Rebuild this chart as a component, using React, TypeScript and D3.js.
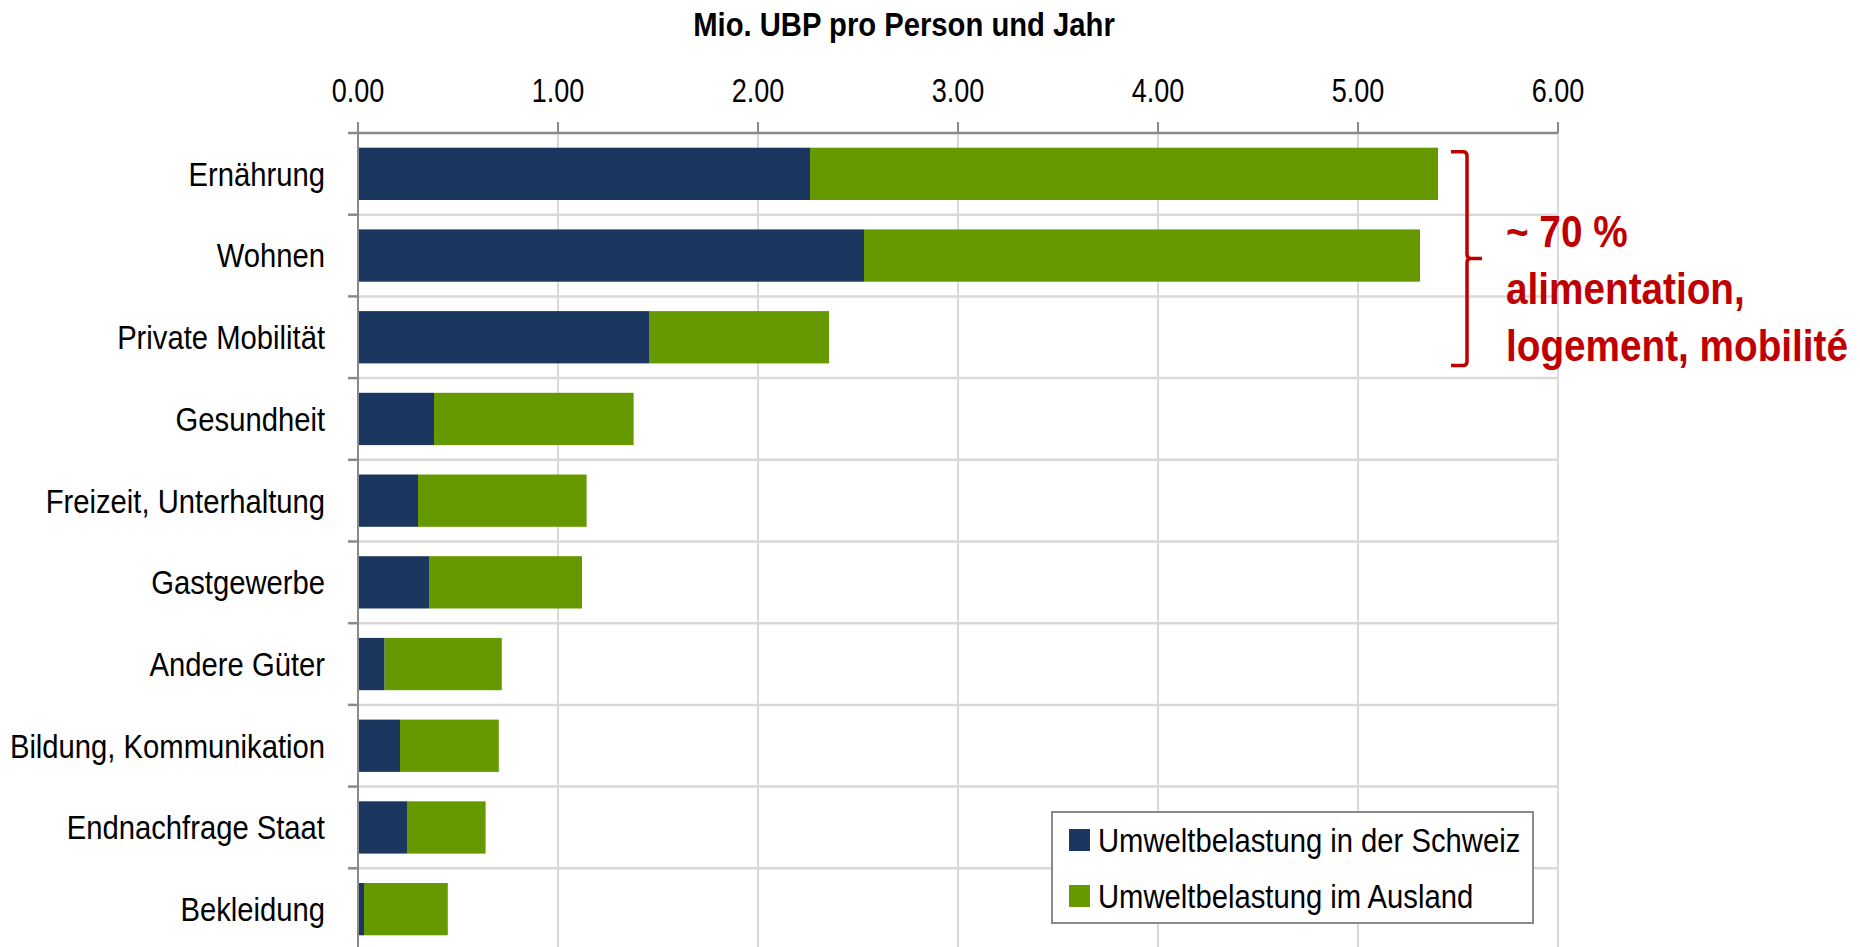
import React, { useEffect, useRef } from 'react';
import * as d3 from 'd3';

// Kategorien (von oben nach unten)
const categories = [
    'Ernährung',
    'Wohnen',
    'Private Mobilität',
    'Gesundheit',
    'Freizeit, Unterhaltung',
    'Gastgewerbe',
    'Andere Güter',
    'Bildung, Kommunikation',
    'Endnachfrage Staat',
    'Bekleidung',
];

// Mio. UBP pro Person und Jahr
const inlandValues = [2.26, 2.53, 1.455, 0.38, 0.30, 0.355, 0.133, 0.21, 0.245, 0.03];
const auslandValues = [3.14, 2.78, 0.90, 0.998, 0.843, 0.765, 0.586, 0.494, 0.393, 0.419];

const seriesNames = ['Umweltbelastung in der Schweiz', 'Umweltbelastung im Ausland'];
const seriesColors = ['#1b375f', '#669900'];

const xTicks = [0, 1, 2, 3, 4, 5, 6];

const annotationLines = ['~ 70 %', 'alimentation,', 'logement, mobilité'];

// kein Arial Narrow vorhanden -> Liberation Sans horizontal gestaucht
const FONT = '"Liberation Sans", Arial, sans-serif';

const App = () => {
    const svgRef = useRef(null);

    useEffect(() => {
        document.body.style.margin = '0';
        document.body.style.overflow = 'hidden';

        const width = 1860;
        const height = 947;
        const left = 358;
        const right = 1558;
        const top = 133;
        const bottom = 950;

        const x = d3.scaleLinear().domain([0, 6]).range([left, right]);
        const y = d3.scaleBand()
            .domain(categories)
            .range([top, bottom])
            .paddingInner(0.36)
            .paddingOuter(0.18);

        const step = y.step();
        const boundary = (i) => top + i * step;

        const svg = d3.select(svgRef.current);
        svg.selectAll('*').remove();
        svg.attr('width', width).attr('height', height).style('display', 'block').style('background', '#fff');

        // schmaler Text: translate + scaleX
        const narrow = (sel, px, py, sx) => sel.attr('transform', (d, i) => `translate(${px(d, i)},${py(d, i)}) scale(${sx},1)`);

        // vertikale Gitterlinien
        svg.append('g')
            .selectAll('line')
            .data(xTicks.slice(1))
            .enter()
            .append('line')
            .attr('x1', (d) => x(d))
            .attr('x2', (d) => x(d))
            .attr('y1', top)
            .attr('y2', height)
            .attr('stroke', '#d9d9d9')
            .attr('stroke-width', 2);

        // horizontale Gitterlinien zwischen Kategorien
        svg.append('g')
            .selectAll('line')
            .data(d3.range(1, categories.length))
            .enter()
            .append('line')
            .attr('x1', left)
            .attr('x2', right)
            .attr('y1', (i) => boundary(i))
            .attr('y2', (i) => boundary(i))
            .attr('stroke', '#d9d9d9')
            .attr('stroke-width', 2.5);

        // gestapelte Balken
        const stackData = categories.map((c, i) => ({ c, inland: inlandValues[i], ausland: auslandValues[i] }));
        const stacked = d3.stack().keys(['inland', 'ausland'])(stackData);

        svg.append('g')
            .selectAll('g')
            .data(stacked)
            .enter()
            .append('g')
            .attr('fill', (d, i) => seriesColors[i])
            .selectAll('rect')
            .data((d) => d)
            .enter()
            .append('rect')
            .attr('x', (d) => x(d[0]))
            .attr('y', (d) => y(d.data.c))
            .attr('width', (d) => x(d[1]) - x(d[0]))
            .attr('height', y.bandwidth());

        // Achsen
        const axisColor = '#8a8a8a';
        svg.append('line')
            .attr('x1', left - 10).attr('x2', right)
            .attr('y1', top).attr('y2', top)
            .attr('stroke', axisColor).attr('stroke-width', 2.5);
        svg.append('line')
            .attr('x1', left).attr('x2', left)
            .attr('y1', top).attr('y2', height)
            .attr('stroke', axisColor).attr('stroke-width', 2);

        svg.append('g')
            .selectAll('line')
            .data(xTicks)
            .enter()
            .append('line')
            .attr('x1', (d) => x(d)).attr('x2', (d) => x(d))
            .attr('y1', top - 11).attr('y2', top)
            .attr('stroke', axisColor).attr('stroke-width', 2);

        svg.append('g')
            .selectAll('line')
            .data(d3.range(1, categories.length))
            .enter()
            .append('line')
            .attr('x1', left - 10).attr('x2', left)
            .attr('y1', (i) => boundary(i)).attr('y2', (i) => boundary(i))
            .attr('stroke', axisColor).attr('stroke-width', 2.5);

        // Tick-Beschriftungen
        svg.append('g')
            .selectAll('text')
            .data(xTicks)
            .enter()
            .append('text')
            .call(narrow, (d) => x(d), () => 102, 0.82)
            .attr('text-anchor', 'middle')
            .attr('font-family', FONT)
            .attr('font-size', 33)
            .attr('fill', '#000')
            .text((d) => d.toFixed(2));

        svg.append('g')
            .selectAll('text')
            .data(categories)
            .enter()
            .append('text')
            .call(narrow, () => 325, (d) => y(d) + y.bandwidth() / 2, 0.86)
            .attr('dy', '0.35em')
            .attr('text-anchor', 'end')
            .attr('font-family', FONT)
            .attr('font-size', 34)
            .attr('fill', '#000')
            .text((d) => d);

        // Titel
        svg.append('text')
            .attr('transform', 'translate(904,36) scale(0.86,1)')
            .attr('text-anchor', 'middle')
            .attr('font-family', FONT)
            .attr('font-weight', 'bold')
            .attr('font-size', 34)
            .attr('fill', '#000')
            .text('Mio. UBP pro Person und Jahr');

        // Klammer + Anmerkung
        const red = '#c00000';
        const bx0 = x(5.465);
        const bx = bx0 + 16;
        const by0 = y(categories[0]) + 4;
        const by1 = y(categories[2]) + y.bandwidth() + 2;
        const bm = (by0 + by1) / 2;
        const path = d3.path();
        path.moveTo(bx0, by0);
        path.lineTo(bx - 4, by0);
        path.quadraticCurveTo(bx, by0, bx, by0 + 4);
        path.lineTo(bx, bm - 4);
        path.quadraticCurveTo(bx, bm, bx + 4, bm);
        path.lineTo(bx + 15, bm);
        path.moveTo(bx + 4, bm);
        path.quadraticCurveTo(bx, bm, bx, bm + 4);
        path.lineTo(bx, by1 - 4);
        path.quadraticCurveTo(bx, by1, bx - 4, by1);
        path.lineTo(bx0, by1);
        svg.append('path')
            .attr('d', path.toString())
            .attr('fill', 'none')
            .attr('stroke', red)
            .attr('stroke-width', 3.5);

        svg.append('g')
            .selectAll('text')
            .data(annotationLines)
            .enter()
            .append('text')
            .call(narrow, () => 1506, (d, i) => 247 + i * 57, 0.88)
            .attr('font-family', FONT)
            .attr('font-weight', 'bold')
            .attr('font-size', 44)
            .attr('fill', red)
            .text((d) => d);

        // Legende
        const legend = svg.append('g').attr('transform', 'translate(1052, 812)');
        legend.append('rect')
            .attr('width', 481)
            .attr('height', 111)
            .attr('fill', '#fff')
            .attr('stroke', '#8a8a8a')
            .attr('stroke-width', 2);
        const items = legend.selectAll('g.item')
            .data(seriesNames)
            .enter()
            .append('g')
            .attr('class', 'item')
            .attr('transform', (d, i) => `translate(17, ${17 + i * 56})`);
        items.append('rect')
            .attr('width', 21)
            .attr('height', 22)
            .attr('fill', (d, i) => seriesColors[i]);
        items.append('text')
            .attr('transform', 'translate(29,11) scale(0.86,1)')
            .attr('dy', '0.35em')
            .attr('font-family', FONT)
            .attr('font-size', 34)
            .attr('fill', '#000')
            .text((d) => d);
    }, []);

    return <svg ref={svgRef}></svg>;
};

export default App;
